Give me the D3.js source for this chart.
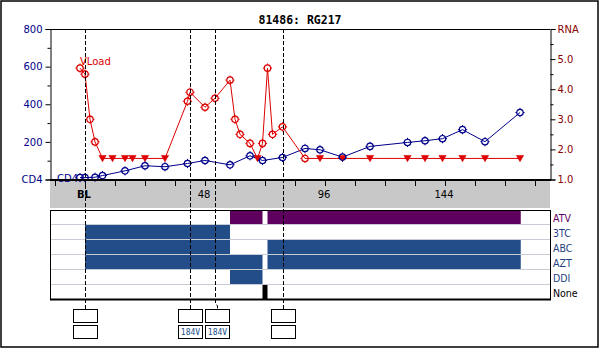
<!DOCTYPE html>
<html>
<head>
<meta charset="utf-8">
<script src="https://cdn.jsdelivr.net/npm/d3@7"></script>
<style>
  html, body { margin: 0; padding: 0; background: #fff; }
  svg { display: block; }
  text { font-family: "DejaVu Sans", Verdana, sans-serif; }
</style>
</head>
<body>
<svg id="chart" width="600" height="349"></svg>
<script>
// ---- patient data (weeks from baseline) ----
const title = "81486: RG217";

// viral load, log10 copies/mL; belowLimit marks results under the assay limit
const rnaWeeks  = [-2, 0, 2, 4, 7, 11, 16, 19, 24, 32, 41, 42, 48, 52, 58, 60, 62, 66, 69, 71, 73, 75, 79, 88, 94, 103, 114, 129, 136, 143, 151, 160, 174];
const rnaValues = [4.7, 4.5, 3.0, 2.25, 1.7, 1.7, 1.7, 1.7, 1.7, 1.7, 3.6, 3.9, 3.4, 3.7, 4.3, 3.0, 2.5, 2.2, 1.7, 2.2, 4.7, 2.5, 2.75, 1.7, 1.7, 1.7, 1.7, 1.7, 1.7, 1.7, 1.7, 1.7, 1.7];
const rnaBelow  = [0, 0, 0, 0, 1, 1, 1, 1, 1, 1, 0, 0, 0, 0, 0, 0, 0, 0, 1, 0, 0, 0, 0, 0, 1, 1, 1, 1, 1, 1, 1, 1, 1];

// CD4 count, cells/uL
const cd4Weeks  = [-2, 0, 4, 7, 16, 24, 32, 41, 48, 58, 66, 71, 79, 88, 94, 103, 114, 129, 136, 143, 151, 160, 174];
const cd4Values = [10, 10, 12, 21, 46, 73, 68, 85, 101, 78, 126, 101, 117, 165, 158, 119, 176, 197, 206, 217, 265, 201, 356];

// axis ticks
const cd4Ticks   = [0, 200, 400, 600, 800];
const rnaTicks   = [1, 2, 3, 4, 5, 6];
const weekLabels = [{w: 0, t: "BL"}, {w: 48, t: "48"}, {w: 96, t: "96"}, {w: 144, t: "144"}];

// treatment history
const drugs = ["ATV", "3TC", "ABC", "AZT", "DDI", "None"];
const regimenDrug  = ["ATV", "ATV", "3TC", "ABC", "ABC", "AZT", "AZT", "DDI", "None"];
const regimenStart = [58, 73, 0, 0, 73, 0, 73, 58, 71];
const regimenEnd   = [71, 174.3, 58, 58, 174.3, 71, 174.3, 71, 73];

// genotype events and the mutations listed under them
const eventWeeks  = [0, 42, 52, 79];
const eventLine1  = ["", "", "", ""];
const eventLine2  = ["", "184V", "184V", ""];

// ---- drawing ----
const svg = d3.select("#chart");
const L = 50, R = 550, T = 29, B = 180;

const x  = d3.scaleLinear().domain([-14, 186]).range([L, R]);
const yC = d3.scaleLinear().domain([0, 800]).range([179.5, T]);
const yR = d3.scaleLinear().domain([1, 6]).range([179.5, T]);
const yRow = d3.scaleBand().domain(drugs).range([210, 300]);

const navy = "#00008b", red = "#dd0000", maroon = "#8b0000";
const purple = "#5e005e", blue = "#224d89", labelBlue = "#1f3f7f";

// outer frame
svg.append("rect").attr("x", 1).attr("y", 1).attr("width", 597).attr("height", 346)
  .attr("fill", "none").attr("stroke", "#000").attr("stroke-width", 1.5);

// title
svg.append("text").attr("x", 300).attr("y", 24).attr("text-anchor", "middle")
  .style("font-family", "'DejaVu Sans Mono', monospace").style("font-weight", "bold")
  .style("font-size", "11.5px").text(title);

// gray week band
svg.append("rect").attr("x", L).attr("y", 181).attr("width", R - L).attr("height", 27).attr("fill", "#c8c8c8");

// frame lines of the upper panel
svg.append("line").attr("x1", L).attr("x2", R).attr("y1", T + 0.5).attr("y2", T + 0.5).attr("stroke", "#000");

// left (CD4) axis
const leftAxis = d3.axisLeft(yC).tickValues(cd4Ticks).tickSize(5).tickPadding(3)
  .tickFormat(d => d === 0 ? "CD4" : d);
const gL = svg.append("g").attr("transform", `translate(${L + 0.5},0)`).call(leftAxis);
gL.select(".domain").attr("stroke", "#000");
gL.selectAll(".tick text").attr("fill", navy).style("font-size", "10px").style("font-family", "'DejaVu Sans', sans-serif");
gL.selectAll(".tick line").attr("stroke", "#000");
const gLm = svg.append("g").attr("transform", `translate(${L + 0.5},0)`)
  .call(d3.axisLeft(yC).tickValues([100, 300, 500, 700]).tickSize(3).tickFormat(""));
gLm.select(".domain").remove();

// right (RNA) axis
const rightAxis = d3.axisRight(yR).tickValues(rnaTicks).tickSize(5).tickPadding(2)
  .tickFormat(d => d === 6 ? "RNA" : d3.format(".1f")(d));
const gR = svg.append("g").attr("transform", `translate(${R + 0.5},0)`).call(rightAxis);
gR.select(".domain").attr("stroke", "#000");
gR.selectAll(".tick text").attr("fill", maroon).style("font-size", "10px").style("font-family", "'DejaVu Sans', sans-serif");
const gRm = svg.append("g").attr("transform", `translate(${R + 0.5},0)`)
  .call(d3.axisRight(yR).tickValues([1.5, 2.5, 3.5, 4.5, 5.5]).tickSize(3).tickFormat(""));
gRm.select(".domain").remove();

// week ticks under the plot
const wk = d3.range(-12, 186, 12);
svg.append("g").selectAll("line").data(wk).join("line")
  .attr("x1", d => Math.round(x(d)) + 0.5).attr("x2", d => Math.round(x(d)) + 0.5)
  .attr("y1", 181).attr("y2", 186).attr("stroke", "#000");
svg.append("g").selectAll("text").data(weekLabels).join("text")
  .attr("x", d => x(d.w) - 1).attr("y", 198).attr("text-anchor", "middle")
  .style("font-size", "10px").style("font-weight", d => d.w === 0 ? "bold" : "normal")
  .attr("fill", "#000").text(d => d.t);

// series labels
svg.append("text").attr("x", 80).attr("y", 65).attr("fill", red).style("font-size", "10px").text("VLoad");
svg.append("text").attr("x", 57).attr("y", 181.5).attr("fill", navy).style("font-size", "10px").text("CD4");

// CD4 series
const cd4 = cd4Weeks.map((w, i) => ({w, v: cd4Values[i]}));
svg.append("path").datum(cd4)
  .attr("d", d3.line().x(d => x(d.w)).y(d => yC(d.v)))
  .attr("fill", "none").attr("stroke", navy).attr("stroke-width", 1);

// viral load series
const rna = rnaWeeks.map((w, i) => ({w, v: rnaValues[i], below: rnaBelow[i] === 1}));
svg.append("path").datum(rna)
  .attr("d", d3.line().x(d => x(d.w)).y(d => yR(d.v)))
  .attr("fill", "none").attr("stroke", red).attr("stroke-width", 1);

// ring marker with small spurs
function ring(g, color) {
  g.append("circle").attr("r", 3.2).attr("fill", "none").attr("stroke", color).attr("stroke-width", 1.2);
  g.append("path").attr("d", "M0,-4.6V-3.2M0,3.2V4.6M-4.6,0H-3.2M3.2,0H4.6")
    .attr("stroke", color).attr("stroke-width", 1);
}

svg.append("g").selectAll("g").data(rna.filter(d => !d.below)).join("g")
  .attr("transform", d => `translate(${x(d.w)},${yR(d.v)})`)
  .each(function() { ring(d3.select(this), red); });
svg.append("g").selectAll("path").data(rna.filter(d => d.below)).join("path")
  .attr("transform", d => `translate(${x(d.w)},${yR(d.v)})`)
  .attr("d", "M-3.6,-3L3.6,-3L0,3.2Z").attr("fill", red).attr("stroke", red).attr("stroke-width", 0.6);

svg.append("g").selectAll("g").data(cd4).join("g")
  .attr("transform", d => `translate(${x(d.w)},${yC(d.v)})`)
  .each(function() { ring(d3.select(this), navy); });

// thick baseline of the upper panel
svg.append("line").attr("x1", L).attr("x2", R + 1).attr("y1", 180).attr("y2", 180)
  .attr("stroke", "#000").attr("stroke-width", 2);

// treatment panel
const regimen = regimenDrug.map((d, i) => ({d, s: regimenStart[i], e: regimenEnd[i]}));
svg.append("g").selectAll("rect").data(regimen).join("rect")
  .attr("x", d => x(d.s)).attr("width", d => x(d.e) - x(d.s))
  .attr("y", d => yRow(d.d)).attr("height", yRow.bandwidth())
  .attr("fill", d => d.d === "ATV" ? purple : d.d === "None" ? "#000" : blue);

svg.append("g").selectAll("line").data(drugs.slice(1)).join("line")
  .attr("x1", L).attr("x2", R).attr("y1", d => yRow(d) - 0.5).attr("y2", d => yRow(d) - 0.5)
  .attr("stroke", "#c8ccd4").attr("stroke-width", 1);

svg.append("rect").attr("x", L + 0.5).attr("y", 210.5).attr("width", R - L).attr("height", 89)
  .attr("fill", "none").attr("stroke", "#000").attr("stroke-width", 1);
svg.append("line").attr("x1", L).attr("x2", R + 1).attr("y1", 299.5).attr("y2", 299.5)
  .attr("stroke", "#000").attr("stroke-width", 2);

svg.append("g").selectAll("text").data(drugs).join("text")
  .attr("x", 553).attr("y", d => yRow(d) + yRow.bandwidth() / 2 + 4)
  .style("font-family", "'DejaVu Sans Condensed', 'Liberation Sans Narrow', sans-serif")
  .style("font-size", "10.5px")
  .attr("fill", d => d === "ATV" ? purple : d === "None" ? "#000" : labelBlue)
  .text(d => d);

// genotype event markers and their boxes
const boxW = 24, boxH = 13, gap = 3;
let prev = -Infinity;
const events = eventWeeks.map((w, i) => {
  const lx = Math.round(x(w)) + 0.5;
  const bx = Math.max(lx, prev + boxW + gap);
  prev = bx;
  return {lx, bx, a: eventLine1[i], b: eventLine2[i]};
});

svg.append("g").selectAll("path").data(events).join("path")
  .attr("d", d => d.bx === d.lx
    ? `M${d.lx},${T}V309`
    : `M${d.lx},${T}V303L${d.bx},306V309`)
  .attr("fill", "none").attr("stroke", "#000").attr("stroke-width", 1).attr("stroke-dasharray", "4,2");

const boxes = svg.append("g").selectAll("g").data(events).join("g")
  .attr("transform", d => `translate(${d.bx - boxW / 2},309.5)`);
boxes.append("rect").attr("width", boxW).attr("height", boxH).attr("fill", "#fff").attr("stroke", "#000");
boxes.append("rect").attr("y", 16).attr("width", boxW).attr("height", boxH).attr("fill", "#fff").attr("stroke", "#000");
boxes.append("text").attr("x", boxW / 2).attr("y", 9.5).attr("text-anchor", "middle")
  .style("font-family", "'DejaVu Sans Mono', monospace").style("font-size", "8px").attr("fill", blue).text(d => d.a);
boxes.append("text").attr("x", boxW / 2).attr("y", 25.5).attr("text-anchor", "middle")
  .style("font-family", "'DejaVu Sans Mono', monospace").style("font-size", "8px").attr("fill", blue).text(d => d.b);
</script>
</body>
</html>
